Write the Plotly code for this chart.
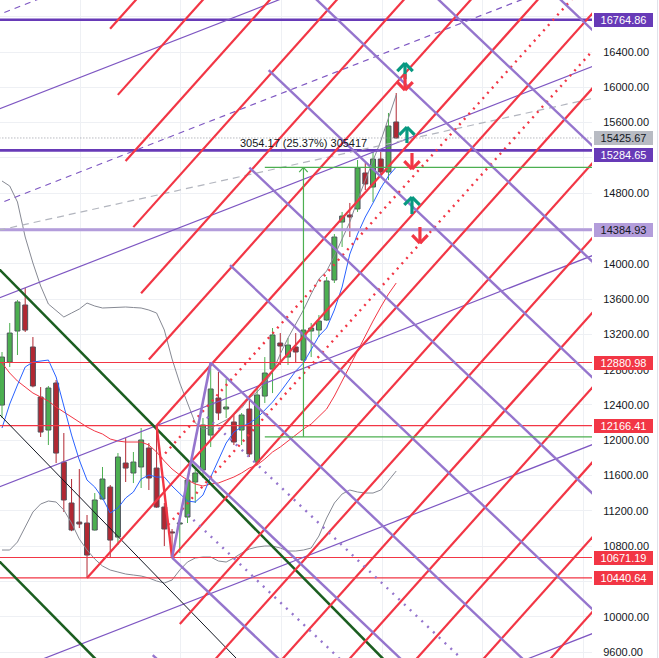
import plotly.graph_objects as go

# ---------------- candle data (weekly) ----------------
OPEN = [12399, 12887, 13238, 13533, 13057, 12490, 12116, 12649, 11753, 11289, 11073, 11062, 10983, 11334,
        11470, 10903, 11742, 11629, 11697, 11912, 11685, 11243, 10960, 11051, 11130, 11527, 11663, 12059,
        12479, 12354, 12207, 12116, 12354, 11753, 12501, 12807, 13102, 12943, 13057, 12909, 13238, 13249,
        13363, 13816, 14473, 14553, 14621, 15029, 14870, 15187, 15040, 15607]
HIGH = [13000, 13329, 13589, 13725, 13170, 12603, 12615, 12683, 12082, 11561, 11674, 11153, 11402, 11697,
        11493, 11855, 12025, 11867, 12139, 11969, 12166.41, 11289, 10994, 11119, 11572, 11663, 12252, 12880.98,
        12773, 12694, 12286, 12309, 12479, 12603, 12943, 13272, 13215, 13159, 13215, 13306, 13329, 13419,
        13850, 14337, 14587, 14689, 15176, 15142, 15267, 15267, 15709, 15935]
LOW = [12252, 12830, 12966, 13227, 12600, 12037, 11946, 11742, 11187, 10970, 11005, 10440.64, 10975, 11325,
       10665, 10813, 11527, 11515, 11459, 11436, 11235, 10801, 10671.19, 10722, 11062, 11289, 11572, 11923,
       12229, 12252, 11946, 11946, 11810, 11719, 12422, 12535, 12853, 12853, 12875, 12853, 12943, 13170,
       13351, 13782, 14190, 14303, 14587, 14836, 14700, 14983, 14949, 15420]
CLOSE = [12943, 13215, 13567, 13249, 12615, 12093, 12592, 11855, 11323, 10983, 11051, 10699, 11323, 11561,
         10869, 11810, 11685, 11753, 12003, 11572, 11243, 10994, 10949, 11062, 11549, 11629, 12173, 12581,
         12309, 12377, 11980, 12286, 11844, 12513, 12762, 13193, 13068, 13079, 13000, 13249, 13272, 13351,
         13805, 14303, 14541, 14530, 15085, 14904, 15187, 15040, 15561, 15425.67]

# ---------------- indicators ----------------
EMA_FAST = [12138.6, 12410.6, 12626, 12830, 12886.6, 12898, 12909, 12716.6, 12388, 12059, 11776, 11549, 11470,
            11345.5, 11175.5, 11232, 11345.5, 11413.5, 11560.6, 11606, 11583, 11583, 11481, 11390.6, 11311,
            11300, 11379, 11583, 11776, 11968.6, 12093, 12150, 12195, 12252, 12342.6, 12433, 12546.6, 12671,
            12784.6, 12875, 13022.6, 13181.3, 13272, 13476, 13736.6, 14110.6, 14337, 14530, 14688.6, 14858.6,
            14994.6, 15096.6]
BB_BASIS = [12875.3, 12762, 12671.3, 12603.3, 12535.3, 12490, 12444.6, 12376.6, 12320, 12263.3, 12206.6, 12150,
            12104.6, 12070.6, 12014, 11991.3, 11980, 11980, 11980, 11946, 11866.6, 11764.6, 11674, 11606,
            11549.3, 11504, 11481.3, 11504, 11515.3, 11549.3, 11583.3, 11628.6, 11685.3, 11719.3, 11787.3,
            11866.6, 11923.3, 11991.3, 12059.3, 12127.3, 12184, 12274.6, 12354, 12501.3, 12671.3, 12852.6,
            13022.6, 13192.6, 13351.3, 13510, 13657.3, 13782]
BB_UPPER = [14938, 14881.4, 14700, 14303.4, 14008.7, 13748, 13544, 13464.7, 13396.7, 13442, 13487.3, 13555.3,
            13521.3, 13498.7, 13504.3, 13510, 13510, 13504.3, 13498.7, 13476, 13442, 13249.4, 12920.7, 12648.7,
            12410.7, 12195.4, 12127.4, 12138.7, 12184, 12229.4, 12286, 12365.4, 12478.7, 12546.7, 12648.7,
            12773.4, 12977.4, 13158.7, 13317.4, 13476, 13657.4, 13827.4, 13918, 14088, 14280.7, 14473.4,
            14722.7, 14949.4, 15176, 15391.4, 15652, 15912.7]
BB_LOWER = [10756, 10756, 10846.7, 11016.7, 11186.7, 11277.4, 11311.4, 11300, 11209.4, 11062, 10880.7, 10756,
            10654, 10574.7, 10529.4, 10506.7, 10484, 10472.7, 10461.4, 10438.7, 10404.7, 10382, 10416, 10529.4,
            10620, 10665.4, 10676.7, 10676.7, 10631.4, 10620, 10665.4, 10722, 10767.4, 10790, 10801.4, 10801.4,
            10778.7, 10744.7, 10744.7, 10756, 10778.7, 10914.7, 11118.7, 11288.7, 11390.7, 11436, 11413.4,
            11402, 11402, 11436, 11538, 11651.4]

# ---------------- drawings (data units: candle index, price) ----------------
PIVOT_A = (20, 12166.41)
PIVOT_B = (22, 10671.19)
PIVOT_C = (27, 12880.98)

RED_SLOPE = 97.86          # price per candle
RED_STEP = 847.7           # price offset between parallel red lines
RED_M = list(range(-9, 7))
RED_DOTTED_M = [-0.5, -1.5]
RED_START_OVERRIDE = {-1: 11}

PURPLE_SLOPE = -83.2
PURPLE_N = list(range(-1, 9))
PURPLE_DOTTED_N = [0.5, 1.5]

THIN_SLOPE = 34.17
THIN_STEP = 2142
THIN_K = [-2, -1, 0, 1, 2]
THIN_DASH_K = [1.5, 2.5]

GRAY_DASH = (0, 14388, 19.45)            # (index, price, slope)
BLACK_LINE = (0, 12263, -90.2)
GREEN_LINES = [(0, 13906.6, -88.9), (0, 10597.5, -88.9)]

H_LEVELS = [16764.86, 15284.65, 14384.93, 12880.98, 12166.41, 10671.19, 10440.64]
H_COLORS = ['#673ab7', '#673ab7', '#b39ddb', '#f23645', '#f23645', '#f23645', '#f23645']
H_WIDTHS = [2.6, 2.8, 3.0, 1.2, 1.2, 1.2, 1.2]
LAST_PRICE = 15425.67

MEASURE_LOW = 12038.5
MEASURE_HIGH = 15092.67
MEASURE_X0 = 34
MEASURE_X = 39
MEASURE_TEXT = "3054.17 (25.37%) 305417"
MEASURE_TEXT_Y = 15368

ARROWS_UP = [(52.14, 16274.6, 16093.3), (52.39, 15550, 15368.6), (53.04, 14756.6, 14564)]
ARROWS_DOWN = [(52.14, 15969, 16150), (53.04, 15074, 15255.4), (54.07, 14235, 14416.7)]

Y_TICKS = [9600, 10000, 10400, 10800, 11200, 11600, 12000, 12400, 12800, 13200, 13600, 14000, 14400,
           14800, 15200, 15600, 16000, 16400, 16800]
Y_HIDDEN = [10400, 14400, 15200, 16800]
X_GRID = [10.1, 23.1, 36.2, 49.2, 62.1, 75.2]

LABELS = [(16764.86, '#673ab7', '#ffffff', 0), (15425.67, '#b8bbc3', '#131722', 0),
          (15284.65, '#673ab7', '#ffffff', -5), (14384.93, '#b39ddb', '#131722', 0),
          (12880.98, '#f23645', '#ffffff', 0), (12166.41, '#f23645', '#ffffff', 0),
          (10671.19, '#f23645', '#ffffff', 0), (10440.64, '#f23645', '#ffffff', 0)]

X_RANGE = [-0.259, 76.33]
Y_RANGE = [9532.4, 16989.3]
X_BEG, X_END = -5, 95

FONT = 'Liberation Sans'

fig = go.Figure()


def add_segments(segs, color, width, dash=None):
    xs, ys = [], []
    for (x0, y0, x1, y1) in segs:
        xs += [x0, x1, None]
        ys += [y0, y1, None]
    fig.add_trace(go.Scatter(x=xs, y=ys, mode='lines', hoverinfo='skip', showlegend=False,
                             line=dict(color=color, width=width, dash=dash)))


def ray(x0, p0, slope, xa=None, pa=None, x_end=X_END):
    # line through (xa, pa) with slope, drawn from x0 to x_end
    if xa is None:
        xa, pa = x0, p0
    return (x0, pa + slope * (x0 - xa), x_end, pa + slope * (x_end - xa))


# ---- candles: wicks ----
IDX = list(range(len(OPEN)))
up = [i for i in IDX if CLOSE[i] >= OPEN[i]]
dn = [i for i in IDX if CLOSE[i] < OPEN[i]]
add_segments([(i, LOW[i], i, HIGH[i]) for i in up], '#4caf50', 1)
add_segments([(i, LOW[i], i, HIGH[i]) for i in dn], '#b22833', 1)
# ---- candles: bodies ----
for group, col in ((up, '#4caf50'), (dn, '#b22833')):
    base = [min(OPEN[i], CLOSE[i]) for i in group]
    hgt = [max(abs(CLOSE[i] - OPEN[i]), 12) for i in group]
    fig.add_trace(go.Bar(x=group, y=hgt, base=base, width=0.64, marker=dict(color=col, line=dict(color='#4e525c', width=1)),
                         hoverinfo='skip', showlegend=False))

# ---- indicators ----
for arr, col, w in ((BB_UPPER, '#868993', 1), (BB_LOWER, '#868993', 1), (BB_BASIS, '#f23645', 1), (EMA_FAST, '#2962ff', 1)):
    fig.add_trace(go.Scatter(x=IDX, y=arr, mode='lines', line=dict(color=col, width=w), hoverinfo='skip', showlegend=False))

# ---- horizontal levels ----
for lvl, col, w in zip(H_LEVELS, H_COLORS, H_WIDTHS):
    add_segments([(X_BEG, lvl, X_END, lvl)], col, w)
add_segments([(X_BEG, LAST_PRICE, X_END, LAST_PRICE)], '#9598a1', 1, '1px,2px')

# ---- thin purple parallel channel ----
ax, ap = PIVOT_A
add_segments([ray(X_BEG, 0, THIN_SLOPE, ax, ap + THIN_STEP * k) for k in THIN_K], '#7e57c2', 1.2)
add_segments([ray(X_BEG, 0, THIN_SLOPE, ax, ap + THIN_STEP * k) for k in THIN_DASH_K], '#7e57c2', 1.2, '6px,5px')
add_segments([ray(X_BEG, 0, GRAY_DASH[2], GRAY_DASH[0], GRAY_DASH[1])], '#b2b5be', 1.2, '7px,5px')

# ---- black and dark green lines ----
add_segments([ray(X_BEG, 0, BLACK_LINE[2], BLACK_LINE[0], BLACK_LINE[1])], '#131722', 1)
add_segments([ray(X_BEG, 0, s, x, p) for (x, p, s) in GREEN_LINES], '#1b5e20', 2.6)

# ---- red grid ----
bx, bp = PIVOT_B
ab_slope = (bp - ap) / (bx - ax)


def red_start(m):
    return ax - RED_STEP * m / (RED_SLOPE - ab_slope)


red_segs = []
for m in RED_M:
    s = RED_START_OVERRIDE.get(m, red_start(m))
    red_segs.append(ray(s, 0, RED_SLOPE, ax, ap + RED_STEP * m))
add_segments(red_segs, '#f23645', 2.2)
add_segments([ray(red_start(m), 0, RED_SLOPE, ax, ap + RED_STEP * m) for m in RED_DOTTED_M], '#f23645', 2.4, '2px,5px')

# ---- purple grid ----
cx, cp = PIVOT_C


def purple_start(n):
    return (bx + n * (cx - bx) / 2, bp + n * (cp - bp) / 2)


add_segments([ray(*purple_start(n), PURPLE_SLOPE) for n in PURPLE_N], '#9575cd', 2.4)
add_segments([ray(*purple_start(n), PURPLE_SLOPE) for n in PURPLE_DOTTED_N], '#9575cd', 2.4, '2px,6px')

# ---- zigzag A-B (red) and B-C (purple) ----
add_segments([(ax, ap, bx, bp)], '#f23645', 2.4)
add_segments([(bx, bp, cx, cp)], '#9575cd', 2.6)

# ---- price range measure ----
add_segments([(MEASURE_X0, MEASURE_LOW, X_END, MEASURE_LOW), (MEASURE_X0, MEASURE_HIGH, X_END, MEASURE_HIGH),
              (MEASURE_X, MEASURE_LOW, MEASURE_X, MEASURE_HIGH),
              (MEASURE_X - 0.55, MEASURE_HIGH - 55, MEASURE_X, MEASURE_HIGH),
              (MEASURE_X, MEASURE_HIGH, MEASURE_X + 0.55, MEASURE_HIGH - 55)], '#4caf50', 1.2)

# ---- arrow marks ----
AW, AH = 1.0, 90
ups, dns = [], []
for (x, ph, pt) in ARROWS_UP:
    ups += [(x, pt, x, ph), (x - AW, ph - AH, x, ph), (x, ph, x + AW, ph - AH)]
for (x, ph, pt) in ARROWS_DOWN:
    dns += [(x, pt, x, ph), (x - AW, ph + AH, x, ph), (x, ph, x + AW, ph + AH)]
add_segments(ups, '#089981', 3.2)
add_segments(dns, '#f23645', 3.2)

annotations = [dict(x=MEASURE_X, y=MEASURE_TEXT_Y, xref='x', yref='y', text=MEASURE_TEXT, showarrow=False,
                    font=dict(family=FONT, size=11, color='#131722'), xanchor='center', yanchor='middle')]
for (p, bg, fc, ysh) in LABELS:
    annotations.append(dict(x=1, xref='paper', y=p, yref='y', xanchor='left', yanchor='middle', xshift=2, yshift=ysh,
                            text=f"{p:.2f}", showarrow=False, bgcolor=bg, borderpad=1, borderwidth=0,
                            width=57, height=12, align='center',
                            font=dict(family=FONT, size=11, color=fc)))

fig.update_layout(
    width=659, height=658, margin=dict(l=0, r=67, t=0, b=0),
    paper_bgcolor='#ffffff', plot_bgcolor='#ffffff', barmode='overlay', bargap=0,
    annotations=annotations, showlegend=False,
    shapes=[dict(type='line', xref='paper', yref='paper', x0=1.1107, x1=1.1107, y0=0, y1=1,
                 line=dict(color='#e0e3eb', width=1))],
    xaxis=dict(range=X_RANGE, tickvals=X_GRID, showticklabels=False, showgrid=True, gridcolor='#eef0f4',
               zeroline=False, showline=False, fixedrange=True),
    yaxis=dict(range=Y_RANGE, side='right', tickvals=Y_TICKS,
               ticktext=['' if t in Y_HIDDEN else f"{t:.2f}" for t in Y_TICKS],
               tickfont=dict(family=FONT, size=11, color='#131722'), showgrid=True, gridcolor='#eef0f4',
               zeroline=False, showline=False, ticks='outside', ticklen=8, tickcolor='rgba(0,0,0,0)'),
)

fig.write_html("out.html", config={'displayModeBar': False, 'staticPlot': True},
               post_script="document.body.style.margin='0';document.body.style.overflow='hidden';")
